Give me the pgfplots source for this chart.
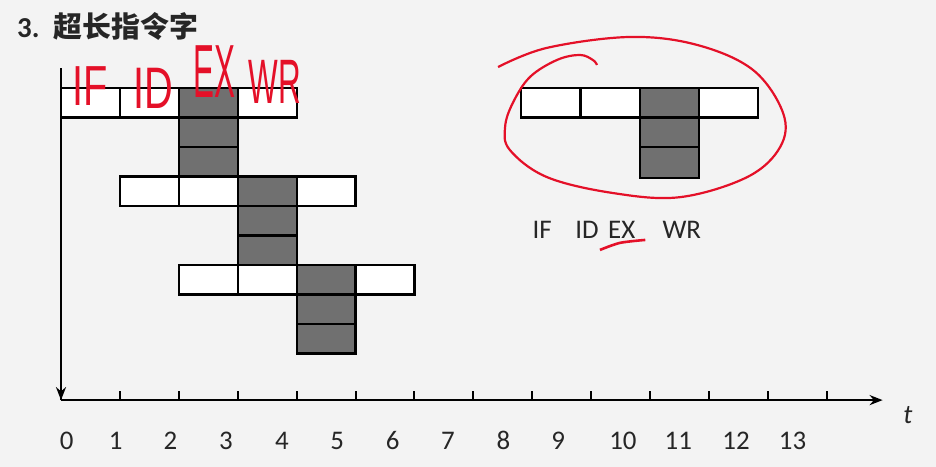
\documentclass[border=0pt]{standalone}
\usepackage{fontspec}
\setmainfont{Carlito}
\newfontfamily\cjk{Noto Sans CJK SC}
\newfontfamily\hand{Liberation Sans}
\usepackage{graphicx}
\usepackage{pgfplots}
\pgfplotsset{compat=1.18}
\usetikzlibrary{arrows.meta}
\definecolor{bgc}{RGB}{243,243,243}
\definecolor{exg}{RGB}{112,112,112}
\definecolor{txt}{RGB}{38,38,38}
\definecolor{pen}{RGB}{228,16,40}
\begin{document}
\begin{tikzpicture}
\path[use as bounding box, fill=bgc] (0,0) rectangle (936bp,-467bp);
\node[anchor=west, text=txt, inner sep=0, font=\fontsize{29}{29}\selectfont\bfseries] at (17bp,-26bp) {3.\hspace{14bp}{\cjk\fontsize{29}{29}\selectfont 超长指令字}};
\begin{axis}[
  at={(61bp,-88bp)}, anchor=origin,
  x=58.9bp, y=29.5bp,
  xmin=0, xmax=13.95, ymin=-10.58, ymax=0.68,
  axis x line=bottom, axis y line=left,
  axis line style={line width=2.2bp, black},
  x axis line style={-{Stealth[length=13bp,width=10bp]}},
  y axis line style={{Stealth[length=13bp,width=10bp]}-},
  xtick={0,1,...,13}, xticklabels={},
  ytick=\empty,
  xtick align=inside, major tick length=9bp,
  tick style={line width=2bp, black},
  extra x ticks={0.097,0.93,1.86,2.80,3.75,4.69,5.63,6.57,7.51,8.44,9.54,10.48,11.46,12.42},
  extra x tick labels={0,1,2,3,4,5,6,7,8,9,10,11,12,13},
  extra x tick style={major tick length=0pt, tick style={draw=none},
     xticklabel style={anchor=base, yshift=-49bp}},
  tick label style={font=\fontsize{27}{27}\selectfont, text=txt},
  /pgf/number format/assume math mode=true,
  clip=false,
  cell/.style={draw=black, line width=2.2bp, fill=white, line join=miter, mark=none},
  ex/.style={cell, fill=exg},
]
% instruction 1
\addplot[cell] coordinates {(0,0) (1,0) (1,-1) (0,-1)} -- cycle;
\addplot[cell] coordinates {(1,0) (2,0) (2,-1) (1,-1)} -- cycle;
\addplot[cell] coordinates {(3,0) (4,0) (4,-1) (3,-1)} -- cycle;
\addplot[ex] coordinates {(2,0) (3,0) (3,-1) (2,-1)} -- cycle;
\addplot[ex] coordinates {(2,-1) (3,-1) (3,-2) (2,-2)} -- cycle;
\addplot[ex] coordinates {(2,-2) (3,-2) (3,-3) (2,-3)} -- cycle;
% instruction 2
\addplot[cell] coordinates {(1,-3) (2,-3) (2,-4) (1,-4)} -- cycle;
\addplot[cell] coordinates {(2,-3) (3,-3) (3,-4) (2,-4)} -- cycle;
\addplot[cell] coordinates {(4,-3) (5,-3) (5,-4) (4,-4)} -- cycle;
\addplot[ex] coordinates {(3,-3) (4,-3) (4,-4) (3,-4)} -- cycle;
\addplot[ex] coordinates {(3,-4) (4,-4) (4,-5) (3,-5)} -- cycle;
\addplot[ex] coordinates {(3,-5) (4,-5) (4,-6) (3,-6)} -- cycle;
% instruction 3
\addplot[cell] coordinates {(2,-6) (3,-6) (3,-7) (2,-7)} -- cycle;
\addplot[cell] coordinates {(3,-6) (4,-6) (4,-7) (3,-7)} -- cycle;
\addplot[cell] coordinates {(5,-6) (6,-6) (6,-7) (5,-7)} -- cycle;
\addplot[ex] coordinates {(4,-6) (5,-6) (5,-7) (4,-7)} -- cycle;
\addplot[ex] coordinates {(4,-7) (5,-7) (5,-8) (4,-8)} -- cycle;
\addplot[ex] coordinates {(4,-8) (5,-8) (5,-9) (4,-9)} -- cycle;
% legend pattern
\addplot[cell] coordinates {(7.81,0) (8.82,0) (8.82,-1) (7.81,-1)} -- cycle;
\addplot[cell] coordinates {(8.82,0) (9.83,0) (9.83,-1) (8.82,-1)} -- cycle;
\addplot[cell] coordinates {(10.83,0) (11.83,0) (11.83,-1) (10.83,-1)} -- cycle;
\addplot[ex] coordinates {(9.83,0) (10.83,0) (10.83,-1) (9.83,-1)} -- cycle;
\addplot[ex] coordinates {(9.83,-1) (10.83,-1) (10.83,-2) (9.83,-2)} -- cycle;
\addplot[ex] coordinates {(9.83,-2) (10.83,-2) (10.83,-3.05) (9.83,-3.05)} -- cycle;
% legend labels
\node[text=txt, font=\fontsize{27}{27}\selectfont] at (axis cs:8.17,-4.81) {IF};
\node[text=txt, font=\fontsize{27}{27}\selectfont] at (axis cs:8.93,-4.81) {ID};
\node[text=txt, font=\fontsize{27}{27}\selectfont] at (axis cs:9.52,-4.81) {EX};
\node[text=txt, font=\fontsize{27}{27}\selectfont] at (axis cs:10.54,-4.81) {WR};
% t label
\node[text=txt, font=\fontsize{27}{27}\selectfont\itshape] at (axis cs:14.38,-11.08) {t};
% red annotations
\addplot[pen, line width=2.2bp, smooth, tension=0.6, mark=none] coordinates {
 (7.42,0.71) (8.25,1.36) (9.66,1.73) (10.80,1.46) (11.75,0.61) (12.26,-0.85)
 (12.21,-2.0) (11.65,-3.02) (10.51,-3.70) (9.37,-3.56) (8.25,-3.02) (7.62,-2.10)
 (7.54,-1.32) (7.67,-0.51) (7.96,0.37) (8.42,0.95) (8.81,1.12) (9.03,0.95) (9.10,0.78)};
\addplot[pen, line width=2.6bp, smooth, mark=none] coordinates {(9.15,-5.49) (9.49,-5.25) (9.92,-5.15)};
\node[text=pen, inner sep=0] at (axis cs:0.49,0.07) {\scalebox{0.95}[1.35]{\hand\fontsize{42}{42}\selectfont IF}};
\node[text=pen, inner sep=0] at (axis cs:1.56,0.0) {\scalebox{0.95}[1.4]{\hand\fontsize{42}{42}\selectfont ID}};
\node[text=pen, inner sep=0] at (axis cs:2.61,0.55) {\scalebox{0.75}[1.8]{\hand\fontsize{42}{42}\selectfont EX}};
\node[text=pen, inner sep=0] at (axis cs:3.63,0.2) {\scalebox{0.75}[1.5]{\hand\fontsize{42}{42}\selectfont WR}};
\end{axis}
\end{tikzpicture}
\end{document}
